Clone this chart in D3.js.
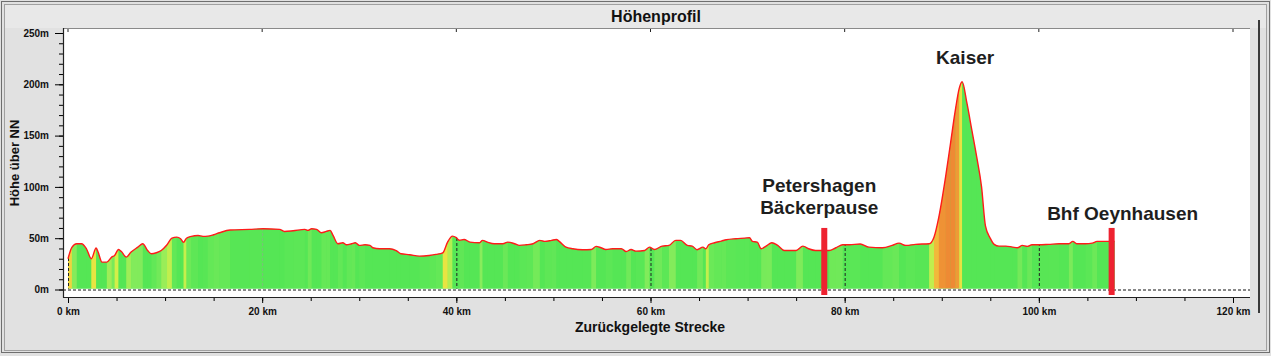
<!DOCTYPE html>
<html><head><meta charset="utf-8">
<script src="https://cdn.jsdelivr.net/npm/d3@7"></script>
<style>
body{margin:0;background:#e3e3e3}
svg{display:block}
</style>
</head><body>
<svg id="c" width="1271" height="356"></svg>
<script>
// ---- data ----
const distKm = [0.0,0.4,0.9,1.4,1.9,2.4,2.9,3.1,3.5,4.0,4.5,4.8,5.2,5.5,6.0,6.5,7.2,7.7,8.2,8.6,9.1,9.6,10.2,10.7,11.2,11.6,11.9,12.2,12.7,13.4,13.9,14.4,15.0,15.6,16.7,18.7,20.1,21.8,22.3,23.2,24.4,24.7,25.1,25.6,26.1,26.6,27.0,27.3,27.8,28.3,28.7,29.2,29.6,30.0,30.6,31.1,31.4,32.1,33.1,33.8,34.3,35.2,36.2,37.2,37.9,38.6,39.1,39.6,40.0,40.3,40.8,41.4,42.4,42.7,43.2,43.9,44.8,45.3,46.0,46.5,47.2,47.9,48.6,49.1,49.8,50.3,50.6,51.3,52.0,53.0,53.9,54.4,54.9,55.4,56.1,57.0,57.5,58.0,58.5,59.4,59.9,60.4,61.2,61.9,62.6,63.1,63.8,64.3,64.8,65.4,65.7,66.0,66.6,67.3,67.8,68.8,69.7,70.2,70.5,71.0,71.4,71.9,72.5,73.1,73.8,75.0,75.7,76.3,77.0,78.4,79.1,79.8,80.5,81.6,82.5,83.9,84.9,85.6,86.3,87.3,88.7,89.2,89.7,90.4,90.9,91.4,91.8,92.1,92.6,93.1,93.6,94.1,94.5,95.0,95.4,95.9,96.6,97.3,97.8,98.3,98.8,99.3,100.0,101.0,102.1,103.1,103.5,103.9,104.8,105.5,106.0,107.2,107.8];
const elevM = [30,41,44.6,44.6,39.7,30,40.4,36.5,26.7,26.7,31.6,33.2,39,37,31.6,36.5,41.3,44.6,38,34.8,35.8,38,43.6,50,51,49.5,46,50,51.8,52.7,51.8,52,53.4,55.3,58,58.6,59.2,58.6,56.6,57.3,58.6,57.6,59.2,58.6,55.3,56.6,57.6,52.7,44.6,45.6,43.6,44.6,45.6,43,43.6,43,40.7,39.7,39.7,38,34.8,33.9,32.5,33.2,34.2,35.8,46.2,52,50.5,48,48.8,46.2,45.6,47.9,46.2,44.6,44.6,46.2,44.6,43,43.6,44.6,47.9,46.9,47.9,48.8,46.9,41.3,39.7,38.8,39,42,40.7,39,39.7,39.7,37,39,37.4,38,41.3,39,42.3,43,47.9,47.9,43,42.3,38.8,41.3,39.7,43.6,45.6,47.2,48.5,49.5,50.1,50.5,46.9,46.2,39.7,42.3,45.6,43,38,38,42.3,39.7,38,38,40.7,43.6,43.6,44.4,41.3,40.7,43,45.2,43,44,44.6,51,70.6,110,142.3,174.8,196,202.5,181.3,155.3,129.2,100,62,50,44,42.3,42.3,41.3,40.7,43,42,43.6,43.6,44,44.6,44.6,46.9,44.6,44.6,45.2,46.9,46.9,46.9];
const yTickValues = [0,50,100,150,200,250];
const xTickValues = [0,20,40,60,80,100,120];
const markerLabels = [["Petershagen","Bäckerpause"],["Kaiser"],["Bhf Oeynhausen"]];
const markerKm = [77.9, 92.1, 107.5];
const markerHasBar = [true, false, true];

// ---- drawing ----
const svg = d3.select("#c");
const W = 1271, H = 356;
const x = d3.scaleLinear().domain([0,120]).range([68,1233]);
const y = d3.scaleLinear().domain([0,250]).range([289.5,33]);
const pts = distKm.map((d,i)=>({km:d, m:elevM[i]}));

// window background
svg.append("rect").attr("x",0).attr("y",0).attr("width",W).attr("height",H).attr("fill","#e1e1e1");
svg.append("rect").attr("x",4).attr("y",4).attr("width",W-8).attr("height",24).attr("fill","#e8e8e8");
svg.append("rect").attr("x",1.5).attr("y",1.5).attr("width",W-3).attr("height",H-5).attr("fill","none").attr("stroke","#6f6f6f");
svg.append("rect").attr("x",4.5).attr("y",4.5).attr("width",W-9).attr("height",H-10).attr("fill","none").attr("stroke","#a0a0a0");
svg.append("line").attr("x1",1259).attr("x2",1259).attr("y1",20).attr("y2",313).attr("stroke","#3a3a3a").attr("stroke-width",2);

// title
svg.append("text").attr("x",656).attr("y",22).attr("text-anchor","middle")
  .attr("font-family","Liberation Sans, Arial, sans-serif").attr("font-weight","bold").attr("font-size",16)
  .attr("fill","#111").text("Höhenprofil");

// plot background
svg.append("rect").attr("x",63).attr("y",28).attr("width",1250-63).attr("height",297-28).attr("fill","#ffffff");
svg.append("line").attr("x1",63).attr("x2",1250).attr("y1",28.5).attr("y2",28.5).attr("stroke","#8a8a8a");

// area + clip
const area = d3.area().x(d=>x(d.km)).y0(y(0)-1).y1(d=>y(d.m)).curve(d3.curveMonotoneX);
const line = d3.line().x(d=>x(d.km)).y(d=>y(d.m)).curve(d3.curveMonotoneX);
svg.append("clipPath").attr("id","prof").append("path").attr("d",area(pts));

const gradeColor = d3.scaleLinear().domain([0,0.8,1.6,3.5,6])
  .range(["#55e655","#8aec5c","#e4f044","#f2c23c","#ee8a34"]).clamp(true);

const fillG = svg.append("g").attr("clip-path","url(#prof)");
fillG.append("rect").attr("x",x(0)).attr("y",y(250)).attr("width",x(108)-x(0)).attr("height",y(0)-y(250)).attr("fill","#55e655");
for(let i=0;i<pts.length-1;i++){
  const a=pts[i], b=pts[i+1];
  const g = (b.m-a.m)/((b.km-a.km)*1000)*100;
  fillG.append("rect").attr("x",x(a.km)).attr("y",y(250))
    .attr("width",Math.max(0.5,x(b.km)-x(a.km))+0.3).attr("height",y(0)-y(250))
    .attr("fill",gradeColor(Math.max(0,g)));
}
xTickValues.forEach(k=>{
  fillG.append("line").attr("x1",x(k)+0.5).attr("x2",x(k)+0.5).attr("y1",y(250)).attr("y2",y(0))
    .attr("stroke", k===20 ? "#7bbf7b" : "#222").attr("stroke-dasharray","3,2").attr("stroke-width",1);
});

// profile outline
svg.append("path").attr("d",line(pts)).attr("fill","none").attr("stroke","#ff1a1a").attr("stroke-width",1.4);

// zero line
svg.append("line").attr("x1",63).attr("x2",1250).attr("y1",y(0)+0.5).attr("y2",y(0)+0.5)
  .attr("stroke","#111").attr("stroke-dasharray","3,2");

// axes
const tickFont = "Liberation Sans, Arial, sans-serif";
const gy = svg.append("g").attr("transform","translate(63,0)");
gy.call(d3.axisLeft(y).tickValues(d3.range(0,251,10)).tickSize(4).tickFormat(""));
gy.call(g=>g.select(".domain").remove());
const gy2 = svg.append("g").attr("transform","translate(63,0)");
gy2.call(d3.axisLeft(y).tickValues(yTickValues).tickSize(8).tickPadding(6).tickFormat(d=>d+"m"));
gy2.select(".domain").remove();
gy2.selectAll("text").attr("font-family",tickFont).attr("font-weight","bold").attr("font-size",10).attr("fill","#111");
svg.append("line").attr("x1",63.5).attr("x2",63.5).attr("y1",28).attr("y2",297.5).attr("stroke","#222").attr("stroke-width",1.2);

const gx = svg.append("g").attr("transform","translate(0,297)");
gx.call(d3.axisBottom(x).tickValues(d3.range(0,121,5)).tickSize(4).tickFormat(""));
gx.select(".domain").remove();
const gx2 = svg.append("g").attr("transform","translate(0,297)");
gx2.call(d3.axisBottom(x).tickValues(xTickValues).tickSize(6).tickPadding(5).tickFormat(d=>d+" km"));
gx2.select(".domain").remove();
gx2.selectAll("text").attr("font-family",tickFont).attr("font-weight","bold").attr("font-size",10).attr("fill","#111");
svg.append("line").attr("x1",63).attr("x2",1250).attr("y1",297.5).attr("y2",297.5).attr("stroke","#222").attr("stroke-width",1.2);
xTickValues.forEach(k=>{
  svg.append("line").attr("x1",x(k)).attr("x2",x(k)).attr("y1",29).attr("y2",32).attr("stroke","#222");
});

// axis titles
svg.append("text").attr("transform","translate(19,163) rotate(-90)").attr("text-anchor","middle")
  .attr("font-family",tickFont).attr("font-weight","bold").attr("font-size",13).attr("fill","#111").text("Höhe über NN");
svg.append("text").attr("x",650).attr("y",332).attr("text-anchor","middle")
  .attr("font-family",tickFont).attr("font-weight","bold").attr("font-size",14).attr("fill","#111").text("Zurückgelegte Strecke");

// markers and labels
const barTopM = 60;
const labelGap = [14, 18, 8];
markerKm.forEach((k,i)=>{
  const mx = x(k);
  let base;
  if(markerHasBar[i]){
    svg.append("rect").attr("x",mx-3).attr("y",y(barTopM)).attr("width",6).attr("height",295-y(barTopM)).attr("fill","#ee2230");
    base = y(barTopM) - labelGap[i];
  } else {
    const peak = d3.max(pts.filter(p=>Math.abs(p.km-k)<0.3), p=>p.m);
    base = y(peak) - labelGap[i];
  }
  const lines = markerLabels[i];
  const cx = i===0 ? mx-5 : (i===2 ? mx+11 : mx+3);
  const t = svg.append("text").attr("text-anchor","middle")
    .attr("font-family","Liberation Sans, Arial, sans-serif").attr("font-weight",700).attr("font-size",19)
    .attr("fill","#1e1e1e");
  lines.forEach((s,j)=>{
    t.append("tspan").attr("x",cx).attr("y",base-(lines.length-1-j)*22).text(s);
  });
});
</script>
</body></html>
